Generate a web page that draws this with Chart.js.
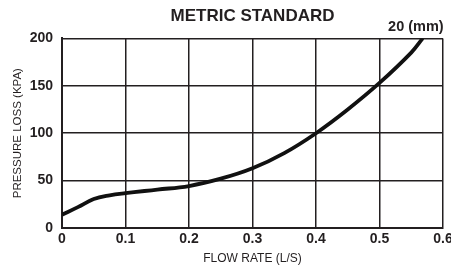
<!DOCTYPE html>
<html>
<head>
<meta charset="utf-8">
<script src="https://cdn.jsdelivr.net/npm/chart.js@4/dist/chart.umd.min.js"></script>
<style>
  html, body { margin: 0; padding: 0; background: #fff; overflow: hidden; }
  #wrap { position: relative; width: 451px; height: 267px; }
</style>
</head>
<body>
<div id="wrap"><canvas id="c" width="451" height="267"></canvas></div>
<script>
const chartTitle = "METRIC STANDARD";
const seriesLabel = "20 (mm)";
const xAxisTitle = "FLOW RATE (L/S)";
const yAxisTitle = "PRESSURE LOSS (KPA)";
const flowRate = [0, 0.025, 0.05, 0.075, 0.1, 0.15, 0.2, 0.25, 0.3, 0.35, 0.4, 0.45, 0.5, 0.55, 0.568];
const pressureLoss = [14, 22, 30.5, 34.5, 36.8, 40.5, 44.3, 52, 63, 79, 100, 125, 153, 185, 200];
const xTicks = [0, 0.1, 0.2, 0.3, 0.4, 0.5, 0.6];
const yTicks = [0, 50, 100, 150, 200];

const FONT = "'Liberation Sans', Arial, Helvetica, sans-serif";
const points = flowRate.map((x, i) => ({ x: x, y: pressureLoss[i] }));

const seriesLabelPlugin = {
  id: 'seriesLabel',
  afterDatasetsDraw(chart) {
    const xs = chart.scales.x, ys = chart.scales.y;
    const last = points[points.length - 1];
    const px = xs.getPixelForValue(last.x);
    const py = ys.getPixelForValue(last.y);
    const ctx = chart.ctx;
    ctx.save();
    ctx.font = "bold 14.5px " + FONT;
    ctx.fillStyle = "#231f20";
    ctx.textAlign = "right";
    ctx.textBaseline = "alphabetic";
    ctx.fillText(seriesLabel, px + 21, py - 7);
    ctx.restore();
  }
};

new Chart(document.getElementById('c'), {
  type: 'line',
  data: {
    datasets: [{
      label: seriesLabel,
      data: points,
      borderColor: '#111',
      borderWidth: 3.8,
      pointRadius: 0,
      tension: 0.4,
      fill: false
    }]
  },
  options: {
    responsive: false,
    animation: false,
    layout: { padding: { left: 0, right: 8, top: 0, bottom: 0 } },
    plugins: {
      legend: { display: false },
      tooltip: { enabled: false },
      title: {
        display: true,
        fullSize: false,
        text: chartTitle,
        color: '#231f20',
        font: { family: FONT, size: 17, weight: 'bold' },
        padding: { top: 6, bottom: 12 }
      }
    },
    scales: {
      x: {
        type: 'linear',
        min: 0, max: 0.6,
        afterBuildTicks(scale) { scale.ticks = xTicks.map(v => ({ value: v })); },
        afterFit(scale) { scale.height = 39; scale.paddingLeft = 0; scale.paddingRight = 0; },
        ticks: {
          color: '#231f20',
          font: { family: FONT, size: 14, weight: 'bold' },
          padding: 3,
          maxRotation: 0,
          autoSkip: false,
          callback: (v) => String(v)
        },
        grid: { color: '#231f20', lineWidth: 1.5, drawTicks: false },
        border: { color: '#231f20', width: 2 },
        title: {
          display: true,
          text: xAxisTitle,
          color: '#231f20',
          font: { family: FONT, size: 12 },
          padding: { top: 0, bottom: 1 }
        }
      },
      y: {
        type: 'linear',
        min: 0, max: 200,
        afterBuildTicks(scale) { scale.ticks = yTicks.map(v => ({ value: v })); },
        afterFit(scale) { scale.width = 62; scale.paddingTop = 0; scale.paddingBottom = 0; },
        ticks: {
          color: '#231f20',
          font: { family: FONT, size: 14, weight: 'bold' },
          padding: 9,
          autoSkip: false
        },
        grid: { color: '#231f20', lineWidth: 1.5, drawTicks: false },
        border: { color: '#231f20', width: 2 },
        title: {
          display: true,
          text: yAxisTitle,
          color: '#231f20',
          font: { family: FONT, size: 11.5 },
          padding: { top: 11, bottom: 0 }
        }
      }
    }
  },
  plugins: [seriesLabelPlugin]
});
</script>
</body>
</html>
